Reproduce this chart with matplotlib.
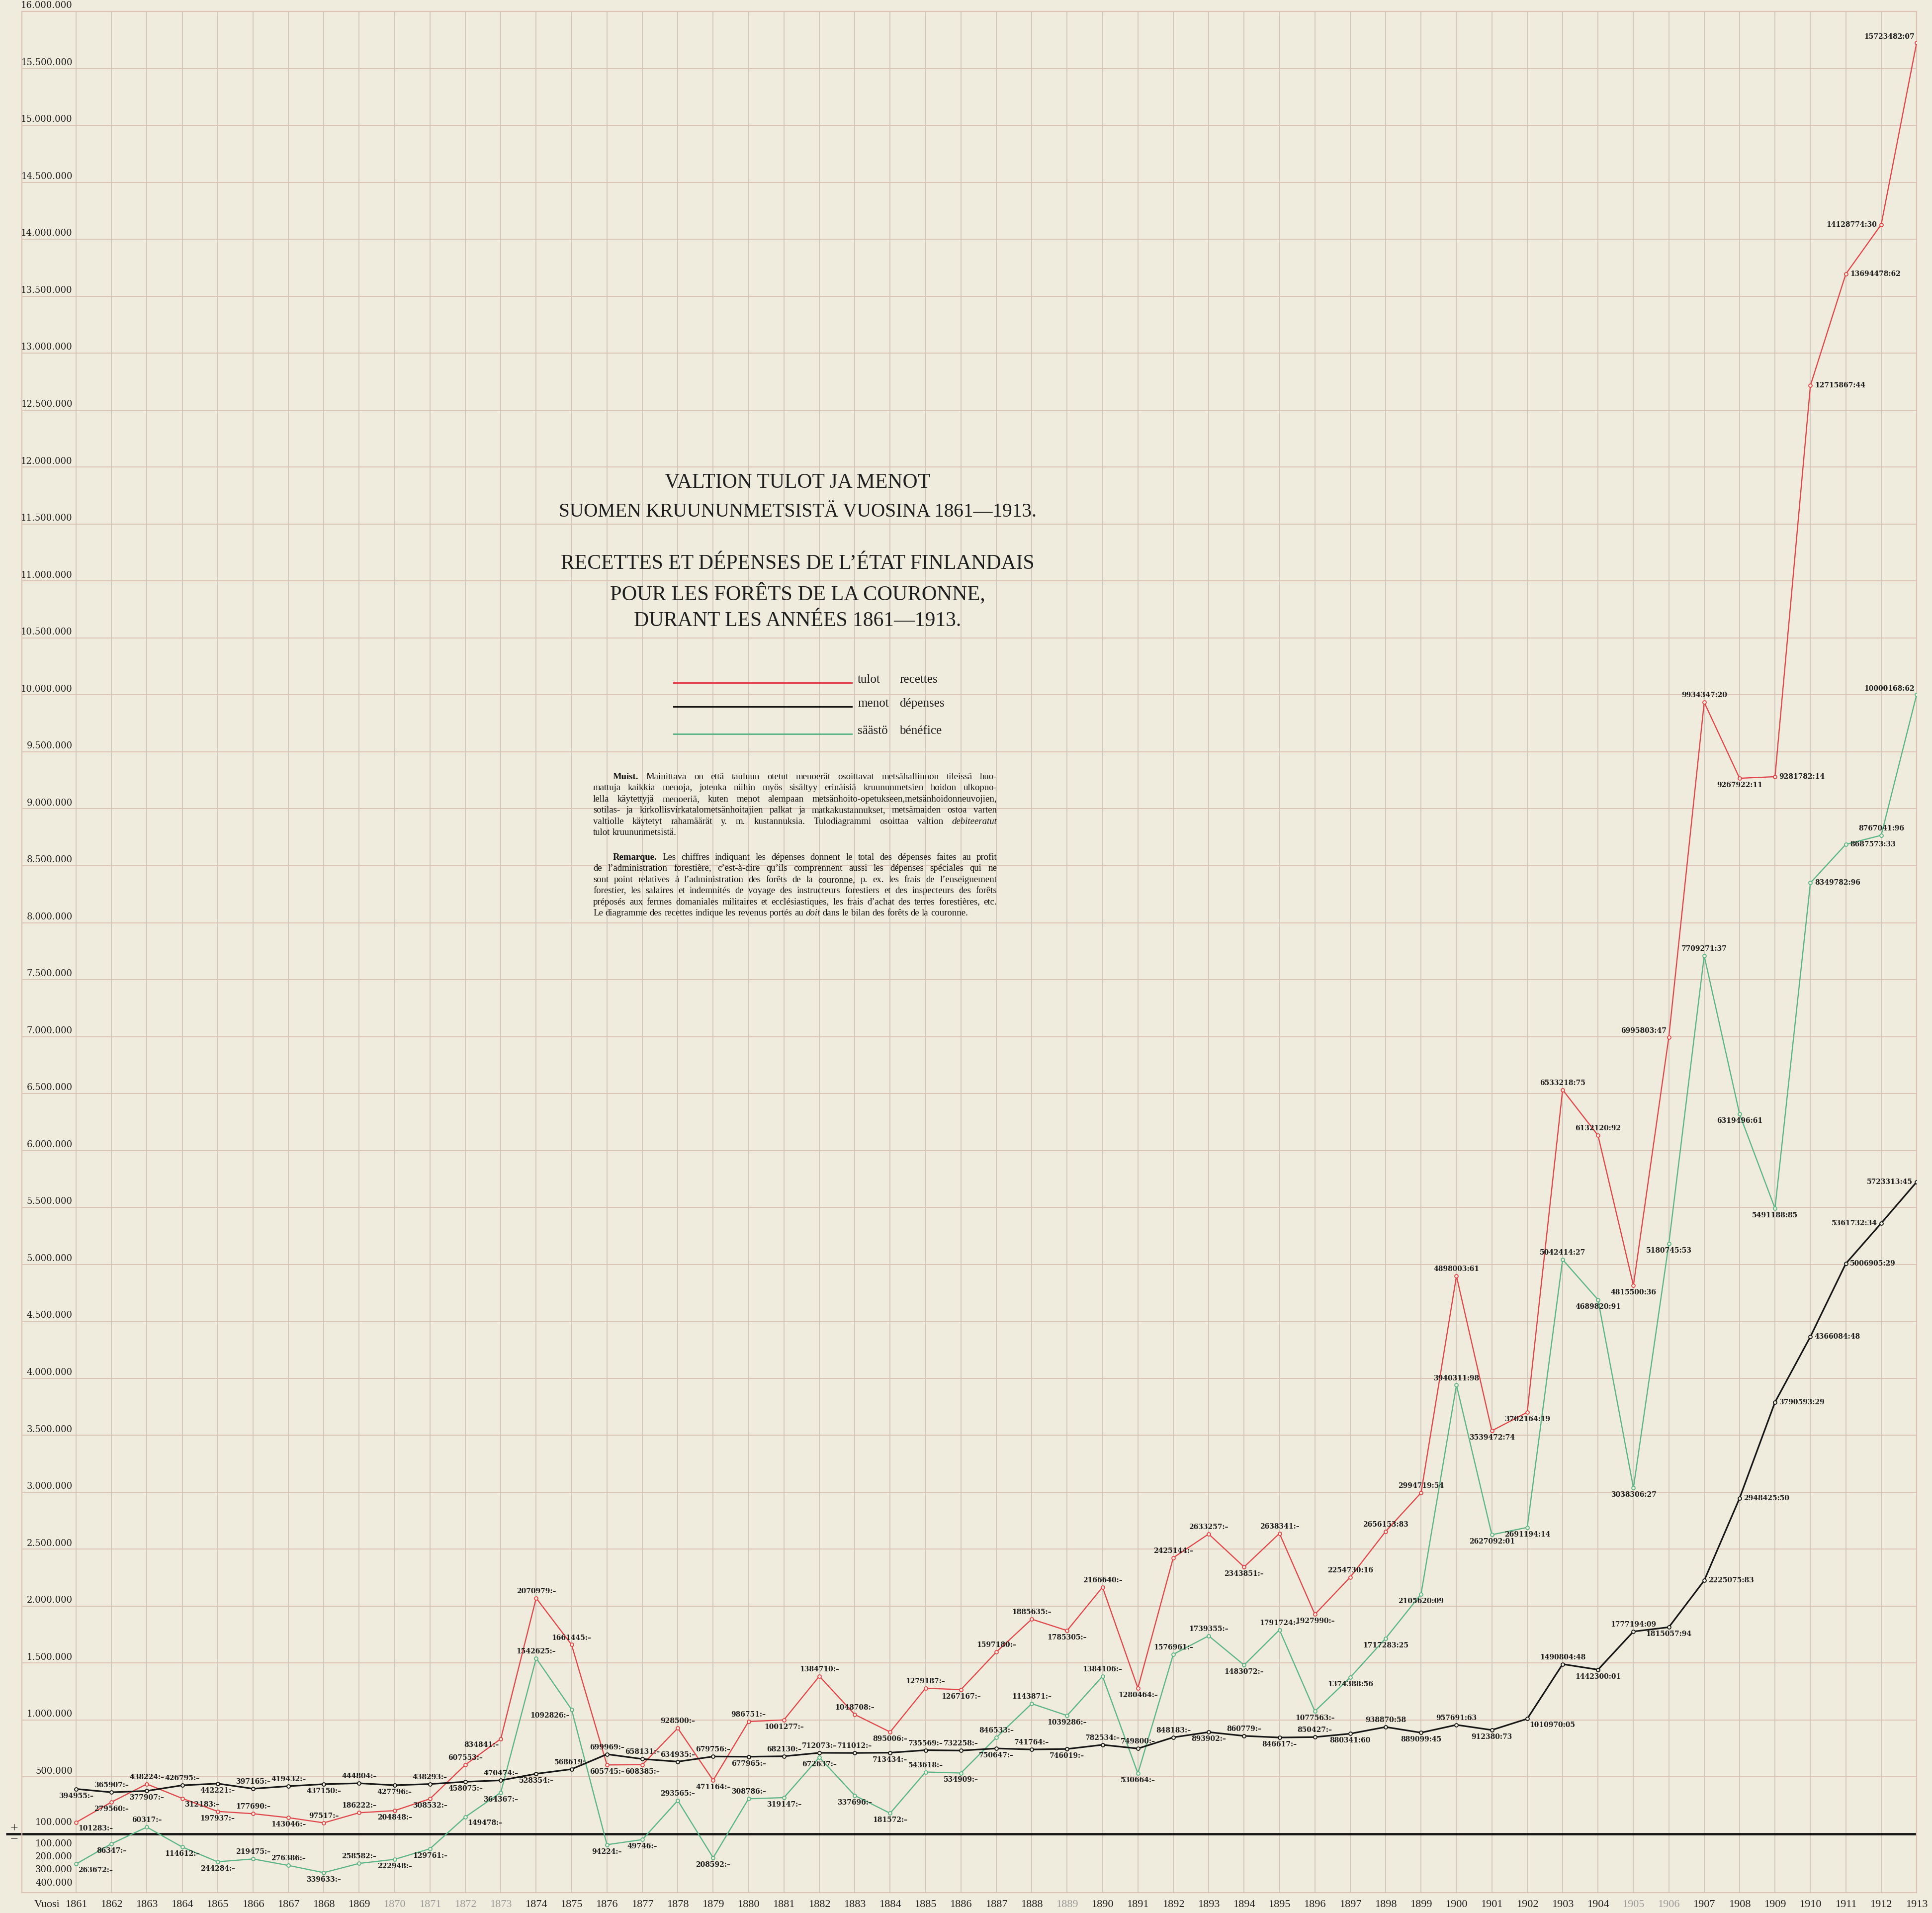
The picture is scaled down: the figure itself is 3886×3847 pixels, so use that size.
# Valtion tulot ja menot Suomen kruununmetsistä 1861-1913 (line chart on grid paper)

import matplotlib
matplotlib.use('Agg')
import numpy as np
import matplotlib.pyplot as plt
from matplotlib.lines import Line2D

years = list(range(1861, 1914))

tulot = [101283, 279560, 438224, 312183, 197937, 177690, 143046, 97517, 186222, 204848,
         308532, 607553, 834841, 2070979, 1661445, 605745, 608385, 928500, 471164, 986751,
         1001277, 1384710, 1048708, 895006, 1279187, 1267167, 1597180, 1885635, 1785305, 2166640,
         1280464, 2425144, 2633257, 2343851, 2638341, 1927990, 2254730.16, 2656153.83, 2994719.54, 4898003.61,
         3539472.74, 3702164.19, 6533218.75, 6132120.92, 4815500.36, 6995803.47, 9934347.20, 9267922.11,
         9281782.14, 12715867.44, 13694478.62, 14128774.30, 15723482.07]

menot = [394955, 365907, 377907, 426795, 442221, 397165, 419432, 437150, 444804, 427796,
         438293, 458075, 470474, 528354, 568619, 699969, 658131, 634935, 679756, 677965,
         682130, 712073, 711012, 713434, 735569, 732258, 750647, 741764, 746019, 782534,
         749800, 848183, 893902, 860779, 846617, 850427, 880341.60, 938870.58, 889099.45, 957691.63,
         912380.73, 1010970.05, 1490804.48, 1442300.01, 1777194.09, 1815057.94, 2225075.83, 2948425.50,
         3790593.29, 4366084.48, 5006905.29, 5361732.34, 5723313.45]

saasto = [-263672, -86347, 60317, -114612, -244284, -219475, -276386, -339633, -258582, -222948,
          -129761, 149478, 364367, 1542625, 1092826, -94224, -49746, 293565, -208592, 308786,
          319147, 672637, 337696, 181572, 543618, 534909, 846533, 1143871, 1039286, 1384106,
          530664, 1576961, 1739355, 1483072, 1791724, 1077563, 1374388.56, 1717283.25, 2105620.09, 3940311.98,
          2627092.01, 2691194.14, 5042414.27, 4689820.91, 3038306.27, 5180745.53, 7709271.37, 6319496.61,
          5491188.85, 8349782.96, 8687573.33, 8767041.96, 10000168.62]

# where each value label sits relative to its point
tulot_pos = ['br', 'b', 'a', 'br', 'b', 'a', 'b', 'a', 'a', 'b',
             'b', 'a', 'bl', 'a', 'a', 'b', 'b', 'a', 'b', 'a',
             'b', 'a', 'a', 'b', 'a', 'b', 'a', 'a', 'b', 'a',
             'b', 'a', 'a', 'b', 'a', 'b', 'a', 'a', 'a', 'a',
             'b', 'b', 'a', 'a', 'b', 'al', 'a', 'b', 'r', 'r',
             'r', 'l', 'al']
menot_pos = ['b', 'a', 'b', 'a', 'b', 'a', 'a', 'b', 'a', 'b',
             'a', 'b', 'a', 'b', 'a', 'a', 'a', 'a', 'a', 'b',
             'a', 'a', 'a', 'b', 'a', 'a', 'b', 'a', 'b', 'a',
             'a', 'a', 'b', 'a', 'b', 'a', 'b', 'a', 'b', 'a',
             'b', 'br', 'a', 'b', 'a', 'b', 'r', 'r', 'r', 'r',
             'r', 'l', 'l']
saasto_pos = ['br', 'b', 'a', 'b', 'b', 'a', 'a', 'b', 'a', 'b',
              'b', 'br', 'b', 'a', 'bl', 'b', 'b', 'a', 'b', 'a',
              'b', 'b', 'b', 'b', 'a', 'b', 'a', 'a', 'b', 'a',
              'b', 'a', 'a', 'b', 'a', 'b', 'b', 'b', 'b', 'a',
              'b', 'b', 'a', 'b', 'b', 'b', 'a', 'b', 'b', 'r',
              'r', 'a', 'al']

names_fi = ['tulot', 'menot', 'säästö']
names_fr = ['recettes', 'dépenses', 'bénéfice']

title_lines = ['VALTION TULOT JA MENOT',
               'SUOMEN KRUUNUNMETSISTÄ VUOSINA 1861—1913.',
               'RECETTES ET DÉPENSES DE L’ÉTAT FINLANDAIS',
               'POUR LES FORÊTS DE LA COURONNE,',
               'DURANT LES ANNÉES 1861—1913.']

note_fi = ['**Muist.** Mainittava on että tauluun otetut menoerät osoittavat metsähallinnon tileissä huo-',
           'mattuja kaikkia menoja, jotenka niihin myös sisältyy erinäisiä kruununmetsien hoidon ulkopuo-',
           'lella käytettyjä menoeriä, kuten menot alempaan metsänhoito-opetukseen,metsänhoidonneuvojien,',
           'sotilas- ja kirkollisvirkatalometsänhoitajien palkat ja matkakustannukset, metsämaiden ostoa varten',
           'valtiolle käytetyt rahamäärät y. m. kustannuksia. Tulodiagrammi osoittaa valtion *debiteeratut*',
           'tulot kruununmetsistä.']
note_fr = ['**Remarque.** Les chiffres indiquant les dépenses donnent le total des dépenses faites au profit',
           'de l’administration forestière, c’est-à-dire qu’ils comprennent aussi les dépenses spéciales qui ne',
           'sont point relatives à l’administration des forêts de la couronne, p. ex. les frais de l’enseignement',
           'forestier, les salaires et indemnités de voyage des instructeurs forestiers et des inspecteurs des forêts',
           'préposés aux fermes domaniales militaires et ecclésiastiques, les frais d’achat des terres forestières, etc.',
           'Le diagramme des recettes indique les revenus portés au *doit* dans le bilan des forêts de la couronne.']

neg_ticks = [100000, 200000, 300000, 400000]
faded_years = [1870, 1871, 1872, 1873, 1889, 1905, 1906]

# ---- style ----
W, H = 3886, 3847
PAPER = '#EFECDD'
HGRID = '#DBC2B5'
VGRID = '#D2C8BD'
RED = '#E0474C'
GREEN = '#5DB487'
BLACK = '#161616'
INK = '#1E1E1E'
SERIF = 'Liberation Serif'
NUMF = 'DejaVu Serif'

def fx(px):
    return px / W

def fy(py):
    return 1 - py / H

fig = plt.figure(figsize=(W / 100, H / 100), dpi=100, facecolor=PAPER)
ax = fig.add_axes([fx(44), fy(3806), (3855 - 44) / W, (3806 - 23) / H])
ax.set_facecolor(PAPER)
x0, x1 = 1859.47, 1913
y0, y1 = -515000, 16000000
ax.set_xlim(x0, x1)
ax.set_ylim(y0, y1)
ax.set_xticks([])
ax.set_yticks([])
for s in ax.spines.values():
    s.set_color(HGRID)
    s.set_linewidth(1.6)

# grid paper
ax.vlines(years, y0, y1, color=VGRID, lw=1.4, zorder=1)
ax.hlines(np.arange(500000, y1, 500000), x0, x1, color=HGRID, lw=1.4, zorder=1)

# zero line
ax.plot([x0 - 0.45, x1], [0, 0], color=BLACK, lw=3.4, clip_on=False, zorder=2,
        solid_capstyle='butt')

# y labels
for v in np.arange(500000, y1 + 1, 500000):
    ax.text(1860.9, v + 12000, f'{int(v):,}'.replace(',', '.'), ha='right', va='bottom',
            fontsize=13, family=NUMF, color=INK, clip_on=False)
ax.text(1860.9, 100000, '100.000', ha='right', va='center', fontsize=13, family=NUMF, color=INK)
neg_y = [-85000, -200000, -315000, -430000]
for v, yy in zip(neg_ticks, neg_y):
    ax.text(1860.9, yy, f'{v:,}'.replace(',', '.'), ha='right', va='center',
            fontsize=13, family=NUMF, color=INK)
ax.text(x0 - 0.22, 45000, '+', ha='center', va='center', fontsize=20, family=SERIF,
        color=INK, clip_on=False)
ax.text(x0 - 0.22, -50000, '−', ha='center', va='center', fontsize=20, family=SERIF,
        color=INK, clip_on=False)

# year labels
for yr in years:
    ax.text(yr, -620000, str(yr), ha='center', va='center', fontsize=16, family=SERIF,
            color='#9a9a9a' if yr in faded_years else INK, clip_on=False)
ax.text(1860.55, -620000, 'Vuosi', ha='right', va='center', fontsize=16, family=SERIF,
        color=INK, clip_on=False)

# series
OFFS = {'a': (0, 5, 'center', 'bottom'), 'b': (0, -5, 'center', 'top'),
        'r': (6, 0, 'left', 'center'), 'l': (-6, 0, 'right', 'center'),
        'al': (-3, 4, 'right', 'bottom'), 'bl': (-3, -4, 'right', 'top'),
        'br': (3, -4, 'left', 'top'), 'ar': (3, 4, 'left', 'bottom')}

def lab(v):
    if isinstance(v, float):
        c = int(round(abs(v) * 100))
        return f'{c // 100}:{c % 100:02d}'
    return f'{abs(v)}:–'

for vals, pos, col, lw in [(tulot, tulot_pos, RED, 1.7), (saasto, saasto_pos, GREEN, 1.7),
                           (menot, menot_pos, BLACK, 2.3)]:
    ax.plot(years, vals, color=col, lw=lw, marker='o', ms=5, mfc=PAPER, mec=col,
            mew=1.3, zorder=4)
    for yr, v, p in zip(years, vals, pos):
        dx, dy, ha, va = OFFS[p]
        ax.annotate(lab(v), (yr, v), xytext=(dx, dy), textcoords='offset points',
                    ha=ha, va=va, fontsize=10, family=NUMF, weight='bold', color=INK,
                    zorder=5)

# title
for txt, yy, fs in zip(title_lines, [970, 1029, 1134, 1194, 1249], [30, 28.2, 30, 30.4, 30]):
    fig.text(fx(1604), fy(yy), txt, ha='center', va='center', fontsize=fs,
             family=SERIF, color=INK)

# legend
for col, fi, fr, yy in zip([RED, BLACK, GREEN], names_fi, names_fr, [1373, 1421, 1476]):
    fig.add_artist(Line2D([fx(1355), fx(1713)], [fy(yy), fy(yy)], color=col, lw=2.2,
                          transform=fig.transFigure))
    fig.text(fx(1725), fy(yy), fi, ha='left', va='baseline', fontsize=18, family=SERIF, color=INK)
    fig.text(fx(1809), fy(yy), fr, ha='left', va='baseline', fontsize=18, family=SERIF, color=INK)

# note paragraphs, justified
def draw_note(paras, left, right, indent, step, base):
    rend = fig.canvas.get_renderer()
    items = []
    for lines, top in paras:
        for i, line in enumerate(lines):
            row = []
            for w in line.split():
                weight, style = 'normal', 'normal'
                if w.startswith('**'):
                    weight = 'bold'
                elif w.startswith('*'):
                    style = 'italic'
                t = fig.text(0, 0, w.strip('*'), fontsize=base, family=SERIF, weight=weight,
                             style=style, va='baseline', ha='left', color='#111111')
                row.append(t)
            widths = [t.get_window_extent(rend).width for t in row]
            start = left + (indent if i == 0 else 0)
            items.append((row, widths, start, top + i * step, i == len(lines) - 1))
    em = base * 100 / 72
    k = 1.0
    for row, widths, start, yy, last in items:
        need = sum(widths) + (len(row) - 1) * 0.2 * em
        k = min(k, (right - start) / need)
    for row, widths, start, yy, last in items:
        widths = [w * k for w in widths]
        if last or len(row) < 2:
            gap = 0.25 * em * k
        else:
            gap = (right - start - sum(widths)) / (len(row) - 1)
        xx = start
        for t, w in zip(row, widths):
            t.set_fontsize(base * k)
            t.set_position((fx(xx), fy(yy)))
            xx += w + gap

draw_note([(note_fi, 1567), (note_fr, 1729)], 1193, 2005, 40, 22.4, 13.5)

fig.savefig('out.png', dpi=100, facecolor=PAPER)
